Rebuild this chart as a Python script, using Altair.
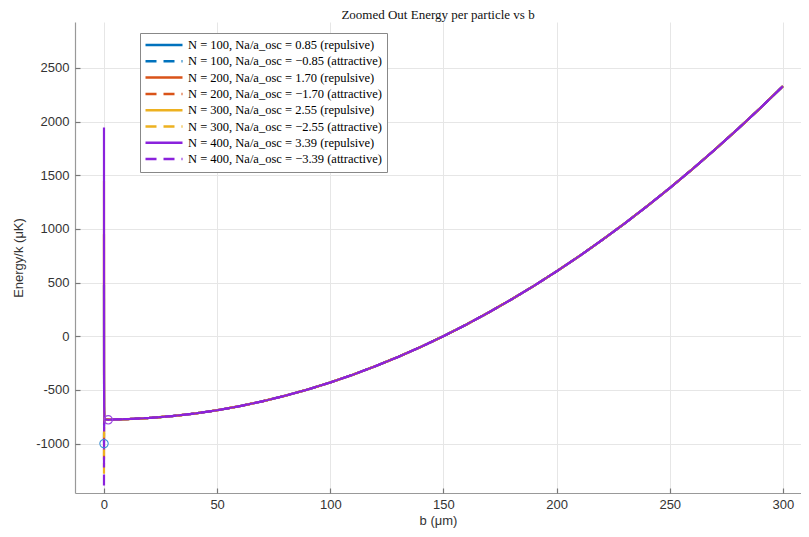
import altair as alt
import pandas as pd

# ---------------- data ----------------
series_names = [
    "N = 100, Na/a_osc = 0.85 (repulsive)",
    "N = 100, Na/a_osc = \u22120.85 (attractive)",
    "N = 200, Na/a_osc = 1.70 (repulsive)",
    "N = 200, Na/a_osc = \u22121.70 (attractive)",
    "N = 300, Na/a_osc = 2.55 (repulsive)",
    "N = 300, Na/a_osc = \u22122.55 (attractive)",
    "N = 400, Na/a_osc = 3.39 (repulsive)",
    "N = 400, Na/a_osc = \u22123.39 (attractive)",
]
series_colors = ["#0072BD", "#0072BD", "#D95319", "#D95319",
                 "#EDB120", "#EDB120", "#8A22DC", "#8A22DC"]
series_dash = [[1, 0], [11, 7], [1, 0], [11, 7], [1, 0], [11, 7], [1, 0], [11, 7]]

# b values (um)
b_vals = [0.01, 0.02, 0.04, 0.08, 0.2, 1.9, 5, 10, 20, 30, 40, 50, 60, 70, 80, 90,
          100, 110, 120, 130, 140, 150, 160, 170, 180, 190, 200, 210, 220, 230,
          240, 250, 260, 270, 280, 290, 300]

# common large-b part of the curves (b >= 5)
E_tail = [-774, -772, -761, -744, -720, -689, -651, -606, -554, -496,
          -430, -358, -278, -192, -99, 1, 108, 222, 343, 470,
          605, 746, 895, 1050, 1212, 1381, 1557, 1740, 1930, 2126, 2330]

E_rep_100 = [480, 60, -450, -700, -772, -777] + E_tail
E_att_100 = [-1000, -900, -820, -790, -778, -778] + E_tail
E_rep_200 = [950, 250, -400, -690, -772, -777] + E_tail
E_att_200 = [-1150, -990, -870, -805, -779, -778] + E_tail
E_rep_300 = [1450, 420, -350, -670, -773, -778] + E_tail
E_att_300 = [-1280, -1070, -910, -815, -780, -779] + E_tail
E_rep_400 = [1945, 600, -300, -650, -775, -778] + E_tail
E_att_400 = [-1390, -1150, -950, -830, -781, -779] + E_tail

all_E = [E_rep_100, E_att_100, E_rep_200, E_att_200,
         E_rep_300, E_att_300, E_rep_400, E_att_400]

# marked minima (hollow circles)
marker_b = [0.02, 1.9]
marker_E = [-1000, -778]
marker_color = ["#3a8fd6", "#9a44e0"]

x_ticks = [0, 50, 100, 150, 200, 250, 300]
y_ticks = [-1000, -500, 0, 500, 1000, 1500, 2000, 2500]

# ---------------- build tables ----------------
rows = []
for k, (name, E) in enumerate(zip(series_names, all_E)):
    for i, (b, e) in enumerate(zip(b_vals, E)):
        rows.append({"series": name, "b": b, "E": e, "k": k, "i": i})
df = pd.DataFrame(rows)
mk = pd.DataFrame({"b": marker_b, "E": marker_E, "c": marker_color})

xs = alt.Scale(domain=[-12.8, 308], nice=False, zero=False)
ys = alt.Scale(domain=[-1460, 2928], nice=False, zero=False)
sans = "Liberation Sans"
serif = "Liberation Serif"
minus_fix = "replace(format(datum.value, 'd'), '\u2212', '-')"

lines = alt.Chart(df).mark_line(strokeWidth=2.2, clip=True).encode(
    x=alt.X("b:Q", scale=xs,
            axis=alt.Axis(values=x_ticks, title="b (\u03bcm)", grid=True, ticks=False,
                          labelPadding=5, titlePadding=3, labelExpr=minus_fix)),
    y=alt.Y("E:Q", scale=ys,
            axis=alt.Axis(values=y_ticks, title="Energy/k (\u03bcK)", grid=True, ticks=False,
                          labelPadding=6, titlePadding=10, labelExpr=minus_fix)),
    color=alt.Color("series:N", scale=alt.Scale(domain=series_names, range=series_colors),
                    legend=alt.Legend(title=None, orient="none", legendX=65, legendY=11,
                                      symbolType="stroke", symbolSize=1369,
                                      symbolStrokeWidth=2.5, clipHeight=16,
                                      labelFont=serif, labelFontSize=12.5,
                                      labelColor="#000000",
                                      fillColor="#ffffff", strokeColor="#888888",
                                      padding=4, rowPadding=0.3, labelLimit=400)),
    strokeDash=alt.StrokeDash("series:N",
                              scale=alt.Scale(domain=series_names, range=series_dash),
                              legend=None),
    detail="series:N",
    order="i:Q",
)

markers = alt.Chart(mk).mark_point(shape="circle", filled=False, size=70,
                                   strokeWidth=1.1, opacity=1).encode(
    x=alt.X("b:Q", scale=xs, axis=None),
    y=alt.Y("E:Q", scale=ys, axis=None),
    stroke=alt.Stroke("c:N", scale=None),
)

# inward ticks (an axis with only ticks, moved inside the plot)
tick_layer = alt.Chart(mk).mark_point(opacity=0).encode(
    x=alt.X("b:Q", scale=xs,
            axis=alt.Axis(orient="bottom", values=x_ticks, offset=-5, tickSize=5,
                          ticks=True, labels=False, domain=False, grid=False,
                          title=None, tickColor="#777777", tickWidth=1.2)),
    y=alt.Y("E:Q", scale=ys,
            axis=alt.Axis(orient="left", values=y_ticks, offset=-5, tickSize=5,
                          ticks=True, labels=False, domain=False, grid=False,
                          title=None, tickColor="#777777", tickWidth=1.2)),
)

chart = alt.layer(lines, markers, tick_layer).resolve_axis(
    x="independent", y="independent"
).properties(
    width=726, height=471,
    title=alt.Title("Zoomed Out Energy per particle vs b", font=serif,
                    fontSize=13, fontWeight="normal", color="#111111",
                    anchor="middle", offset=0.5),
    autosize=alt.AutoSizeParams(type="none"),
    padding={"left": 67, "top": 14, "right": 0, "bottom": 36},
).configure_view(stroke=None).configure_axis(
    labelFont=sans, labelFontSize=13, labelColor="#333333",
    titleFont=sans, titleFontSize=13, titleColor="#333333", titleFontWeight="normal",
    domainColor="#999999", domainWidth=1.2,
    gridColor="#e6e6e6", gridWidth=1,
)

chart.save("out.html", embed_options={"renderer": "svg", "actions": False})
